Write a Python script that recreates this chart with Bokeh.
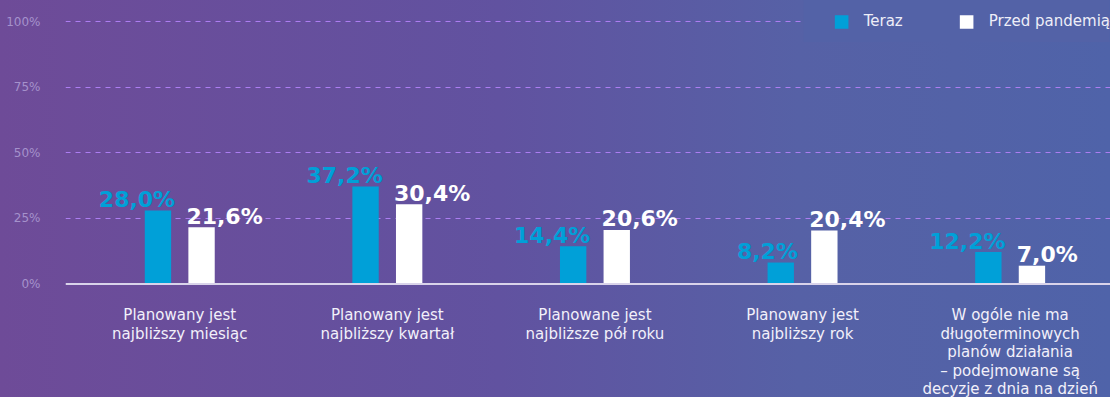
import numpy as np
from bokeh.plotting import figure
from bokeh.models import Range1d, FixedTicker, Span, Legend, LegendItem, ColumnDataSource
from bokeh.core.properties import value
from bokeh.embed import file_html
from bokeh.resources import INLINE

# ---- data ----
categories = [
    "Planowany jest\nnajbliższy miesiąc",
    "Planowany jest\nnajbliższy kwartał",
    "Planowane jest\nnajbliższe pół roku",
    "Planowany jest\nnajbliższy rok",
    "W ogóle nie ma\ndługoterminowych\nplanów działania\n– podejmowane są\ndecyzje z dnia na dzień",
]
teraz = [28.0, 37.2, 14.4, 8.2, 12.2]
przed = [21.6, 30.4, 20.6, 20.4, 7.0]
teraz_labels = ["28,0%", "37,2%", "14,4%", "8,2%", "12,2%"]
przed_labels = ["21,6%", "30,4%", "20,6%", "20,4%", "7,0%"]
series_names = ["Teraz", "Przed pandemią"]
y_ticks = [0, 25, 50, 75, 100]
y_tick_labels = ["0%", "25%", "50%", "75%", "100%"]

# ---- styles ----
BLUE = "#00a0d8"
WHITE = "#ffffff"
FONT = "DejaVu Sans"
LEGEND_BG = "#5362a7"
offset = 0.105
bar_w = 0.127

pos = np.arange(len(categories))

p = figure(width=1110, height=397, output_backend="svg", toolbar_location=None,
           x_range=Range1d(-0.5504, 4.4834), y_range=Range1d(-43.2, 108.0),
           min_border_left=65, min_border_right=0, min_border_top=0, min_border_bottom=0,
           x_axis_location=None)
p.background_fill_alpha = 0
p.border_fill_alpha = 0
p.outline_line_color = None
p.styles = {"background": "linear-gradient(90deg, #6e4b98 0%, #6152a0 45%, #5661a6 72%, #5362a7 86%, #4f63a9 100%)"}

ax = p.yaxis[0]
ax.ticker = FixedTicker(ticks=y_ticks)
ax.major_label_overrides = {t: l for t, l in zip(y_ticks, y_tick_labels)}
ax.axis_line_color = None
ax.major_tick_line_color = None
ax.minor_tick_line_color = None
ax.major_label_standoff = 19
ax.major_label_text_font = FONT
ax.major_label_text_font_size = "12px"
ax.major_label_text_color = "#a592cc"

p.xgrid.grid_line_color = None
p.ygrid.ticker = FixedTicker(ticks=y_ticks[1:])
p.ygrid.grid_line_color = "#ad7df2"
p.ygrid.grid_line_dash = "5 5"
p.ygrid.grid_line_width = 1

p.add_layout(Span(location=0, dimension="width", line_color="#d9d3ea", line_width=2))

src = ColumnDataSource(dict(
    xt=pos - offset, xp=pos + offset, teraz=teraz, przed=przed,
    lt=teraz_labels, lp=przed_labels, pos=pos, cat=categories,
    xtl=pos - offset + bar_w / 2, xpl=pos + offset - bar_w / 2,
))

r1 = p.vbar(x="xt", top="teraz", width=bar_w, bottom=0, source=src,
            fill_color=BLUE, line_color=None)
r2 = p.vbar(x="xp", top="przed", width=bar_w, bottom=0, source=src,
            fill_color=WHITE, line_color=None)

p.text(x="xtl", y="teraz", text="lt", source=src, text_align="right",
       text_baseline="alphabetic", y_offset=-11, x_offset=4,
       text_font=value(FONT), text_font_style="bold", text_font_size="22px",
       text_color=BLUE)
p.text(x="xpl", y="przed", text="lp", source=src, text_align="left",
       text_baseline="alphabetic", y_offset=-11, x_offset=-2,
       text_font=value(FONT), text_font_style="bold", text_font_size="22px",
       text_color=WHITE)

p.text(x="pos", y=0, text="cat", source=src, text_align="center",
       text_baseline="top", y_offset=22, text_font=value(FONT),
       text_font_size="15px", text_color="#f2f0fa", text_line_height=1.03)

legend = Legend(items=[LegendItem(label=series_names[0], renderers=[r1]),
                       LegendItem(label=series_names[1], renderers=[r2])],
                orientation="horizontal", location="top_right", padding=0, margin=0,
                spacing=55, glyph_width=17, glyph_height=17, label_standoff=14,
                label_height=42, label_text_baseline="middle",
                title=" ", title_location="left", title_standoff=12,
                title_text_font_size="15px",
                label_text_font=FONT, label_text_font_size="15px",
                label_text_color="#eeeef8", background_fill_color=LEGEND_BG,
                background_fill_alpha=1, border_line_color=None)
p.add_layout(legend)

open("out.html", "w").write(file_html(p, INLINE))
